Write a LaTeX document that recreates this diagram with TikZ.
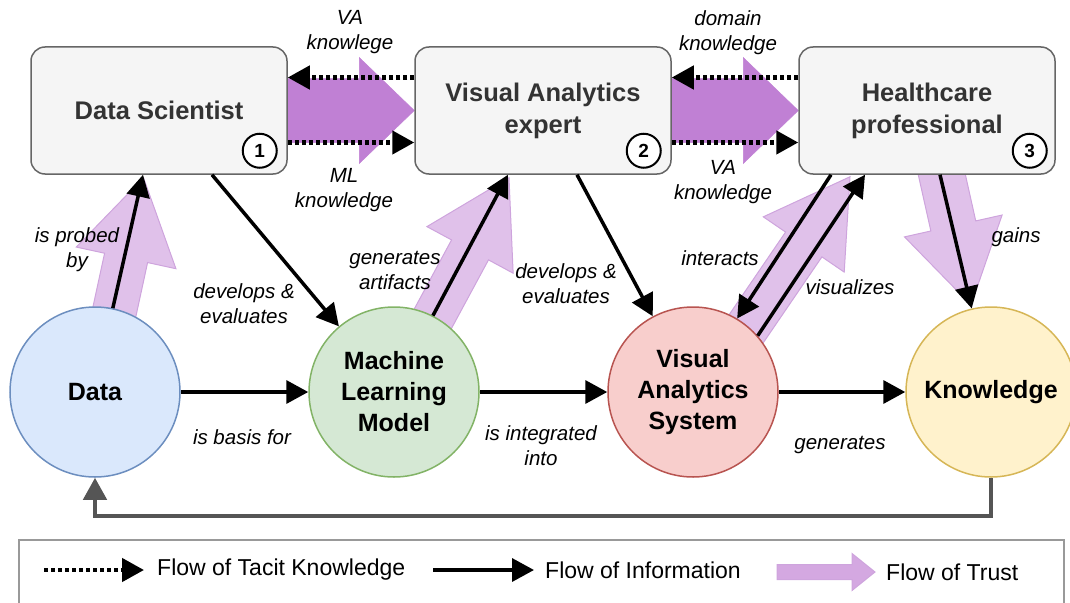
\documentclass[tikz,border=0pt]{standalone}
\usepackage{fontspec}
\setmainfont{Liberation Sans}
\usepackage{tikz}
\usetikzlibrary{arrows.meta, positioning, calc, backgrounds}

\definecolor{boxfill}{HTML}{F5F5F5}
\definecolor{boxline}{HTML}{666666}
\definecolor{titletext}{HTML}{333333}
\definecolor{datafill}{HTML}{DAE8FC}
\definecolor{dataline}{HTML}{6C8EBF}
\definecolor{mlfill}{HTML}{D5E8D4}
\definecolor{mlline}{HTML}{82B366}
\definecolor{vasfill}{HTML}{F8CECC}
\definecolor{vasline}{HTML}{B85450}
\definecolor{knowfill}{HTML}{FFF2CC}
\definecolor{knowline}{HTML}{D6B656}
\definecolor{trustlight}{RGB}{224,193,234}
\definecolor{trustedge}{RGB}{206,164,221}
\definecolor{trustdark}{RGB}{192,128,212}
\definecolor{trustkey}{RGB}{212,168,225}
\definecolor{fbgray}{HTML}{555555}
\definecolor{keyline}{HTML}{999999}

% fat arrow from #2 to #3: body half width #4, head half width #5, head length #6
\newcommand{\trustarrow}[6][trust]{%
  \filldraw[#1] let \p1=($(#3)-(#2)$), \n1={atan2(\y1,\x1)}, \n2={veclen(\x1,\y1)} in
    [shift={(#2)}, rotate=\n1]
    (0pt,-#4pt) -- ({\n2*1pt-#6pt},-#4pt) -- ({\n2*1pt-#6pt},-#5pt)
    -- ({\n2*1pt},0pt) -- ({\n2*1pt-#6pt},#5pt) -- ({\n2*1pt-#6pt},#4pt)
    -- (0pt,#4pt) -- cycle;}

\begin{document}
\begin{tikzpicture}[x=1pt, y=-1pt,
    actor/.style={rectangle, draw=boxline, fill=boxfill, line width=1.5pt,
                  rounded corners=14pt, minimum width=256pt, minimum height=127pt,
                  align=center, text=titletext,
                  font=\fontsize{25.5}{32}\selectfont\bfseries},
    stage/.style={circle, minimum size=170pt, inner sep=0pt, line width=1.5pt,
                  align=center, font=\fontsize{25}{31}\selectfont\bfseries},
    badge/.style={circle, draw, fill=white, line width=2pt, minimum size=34pt,
                  inner sep=0pt, font=\fontsize{19}{19}\selectfont\bfseries},
    info/.style={-{Triangle[length=22pt,width=23pt]}, line width=3.5pt},
    tacit/.style={info, line width=4.5pt, dash pattern=on 4pt off 3pt},
    feedback/.style={info, draw=fbgray, line width=4.5pt, fbgray},
    lbl/.style={font=\fontsize{20.5}{25}\selectfont\itshape, align=center},
    key/.style={font=\fontsize{23}{26}\selectfont, anchor=west, inner sep=0pt},
    trust/.style={fill=trustlight, draw=trustedge, line width=1pt},
    strongtrust/.style={fill=trustdark, draw=trustdark, line width=0.5pt},
    keytrust/.style={fill=trustkey, draw=trustedge, line width=1pt}
]
    \useasboundingbox (0,0) rectangle (1070,602);

    % actors
    \node[actor] (ds) at (159,110.5) {Data Scientist};
    \node[actor] (vae) at (543,110.5) {Visual Analytics\\expert};
    \node[actor] (hp) at (927,110.5) {Healthcare\\professional};
    \node[badge] (n1) at ([shift={(-28,-24)}]ds.south east) {1};
    \node[badge] (n2) at ([shift={(-28,-24)}]vae.south east) {2};
    \node[badge] (n3) at ([shift={(-26,-24)}]hp.south east) {3};

    % pipeline
    \node[stage, fill=datafill, draw=dataline] (data) at (95,392) {Data};
    \node[stage, fill=mlfill, draw=mlline] (mlm) at (394,392) {Machine\\Learning\\Model};
    \node[stage, fill=vasfill, draw=vasline] (vas) at (693,392) {Visual\\Analytics\\System};
    \node[stage, fill=knowfill, draw=knowline] (know) at (991,392) {Knowledge};

    % ends of the trust arrows
    \coordinate (probeA) at ([shift={(10,-37)}]data.center);
    \coordinate (probeB) at ([shift={(-15.5,3)}]ds.south);
    \coordinate (artA) at ([shift={(36,-68)}]mlm.center);
    \coordinate (artB) at ([shift={(-34,3)}]vae.south);
    \coordinate (visA) at ([shift={(38,-41)}]vas.center);
    \coordinate (visB) at ([shift={(-77,2)}]hp.south);
    \coordinate (gainA) at ([shift={(9,-26)}]hp.south);
    \coordinate (gainB) at ([shift={(-20,-87)}]know.center);
    \coordinate (dsva) at ([shift={(-8,0)}]ds.east);
    \coordinate (vahp) at ([shift={(-8,0)}]vae.east);

    \begin{scope}[on background layer]
        \trustarrow{probeA}{probeB}{22}{51}{82}
        \trustarrow{artA}{artB}{21}{49}{82}
        \trustarrow{visA}{visB}{22}{49}{82}
        \trustarrow{gainA}{gainB}{23}{50}{81}
        \trustarrow[strongtrust]{dsva}{vae.west}{32}{53}{55}
        \trustarrow[strongtrust]{vahp}{hp.west}{32}{53}{55}
    \end{scope}

    % tacit knowledge
    \draw[tacit] ([shift={(0,-33)}]vae.west) -- ([shift={(0,-33)}]ds.east);
    \draw[tacit] ([shift={(0,32)}]ds.east) -- ([shift={(0,32)}]vae.west);
    \draw[tacit] ([shift={(0,-33)}]hp.west) -- ([shift={(0,-33)}]vae.east);
    \draw[tacit] ([shift={(0,32)}]vae.east) -- ([shift={(0,32)}]hp.west);

    % information
    \draw[info] (data.78) -- ([shift={(-16,0)}]ds.south);
    \draw[info] ([shift={(53,0)}]ds.south) -- (mlm.130);
    \draw[info] (mlm.63) -- ([shift={(-35,0)}]vae.south);
    \draw[info] ([shift={(34,0)}]vae.south) -- (vas.118);
    \draw[info] ([shift={(-96,0)}]hp.south) -- (vas.59);
    \draw[info] (vas.41) -- ([shift={(-62,0)}]hp.south);
    \draw[info] ([shift={(13,0)}]hp.south) -- (know.103);
    \draw[info] (data) -- (mlm);
    \draw[info] (mlm) -- (vas);
    \draw[info] (vas) -- (know);
    \draw[feedback] (know.south) -- ++(0,38) -| (data.south);

    % edge labels
    \node[lbl] (l1) at (350,32.5) {VA\\knowlege};
    \node[lbl] (l2) at (344,190) {ML\\knowledge};
    \node[lbl] (l3) at (728,32.5) {domain\\knowledge};
    \node[lbl] (l4) at (723,182) {VA\\knowledge};
    \node[lbl] (l5) at (77,249.5) {is probed\\by};
    \node[lbl] (l6) at (244,303.5) {develops \&\\evaluates};
    \node[lbl] (l7) at (395,270.5) {generates\\artifacts};
    \node[lbl] (l8) at (566,283.5) {develops \&\\evaluates};
    \node[lbl] (l9) at (720,258) {interacts};
    \node[lbl] (l10) at (850,287) {visualizes};
    \node[lbl] (l11) at (1016,237) {gains};
    \node[lbl] (l12) at (242,437) {is basis for};
    \node[lbl] (l13) at (541,446) {is integrated\\into};
    \node[lbl] (l14) at (840,445) {generates};

    % legend
    \draw[keyline, line width=1.5pt] (19,540) rectangle (1064,640);
    \coordinate (keyA) at (44,570);
    \coordinate (keyB) at (144,570);
    \coordinate (keyC) at (433,570);
    \coordinate (keyD) at (534,570);
    \coordinate (keyE) at (777,572);
    \coordinate (keyF) at (875,572);
    \draw[tacit] (keyA) -- (keyB);
    \node[key] (k1) at (157,570) {Flow of Tacit Knowledge};
    \draw[info] (keyC) -- (keyD);
    \node[key] (k2) at (545,570) {Flow of Information};
    \trustarrow[keytrust]{keyE}{keyF}{7.5}{18.5}{23}
    \node[key] (k3) at (886,572) {Flow of Trust};
\end{tikzpicture}
\end{document}
